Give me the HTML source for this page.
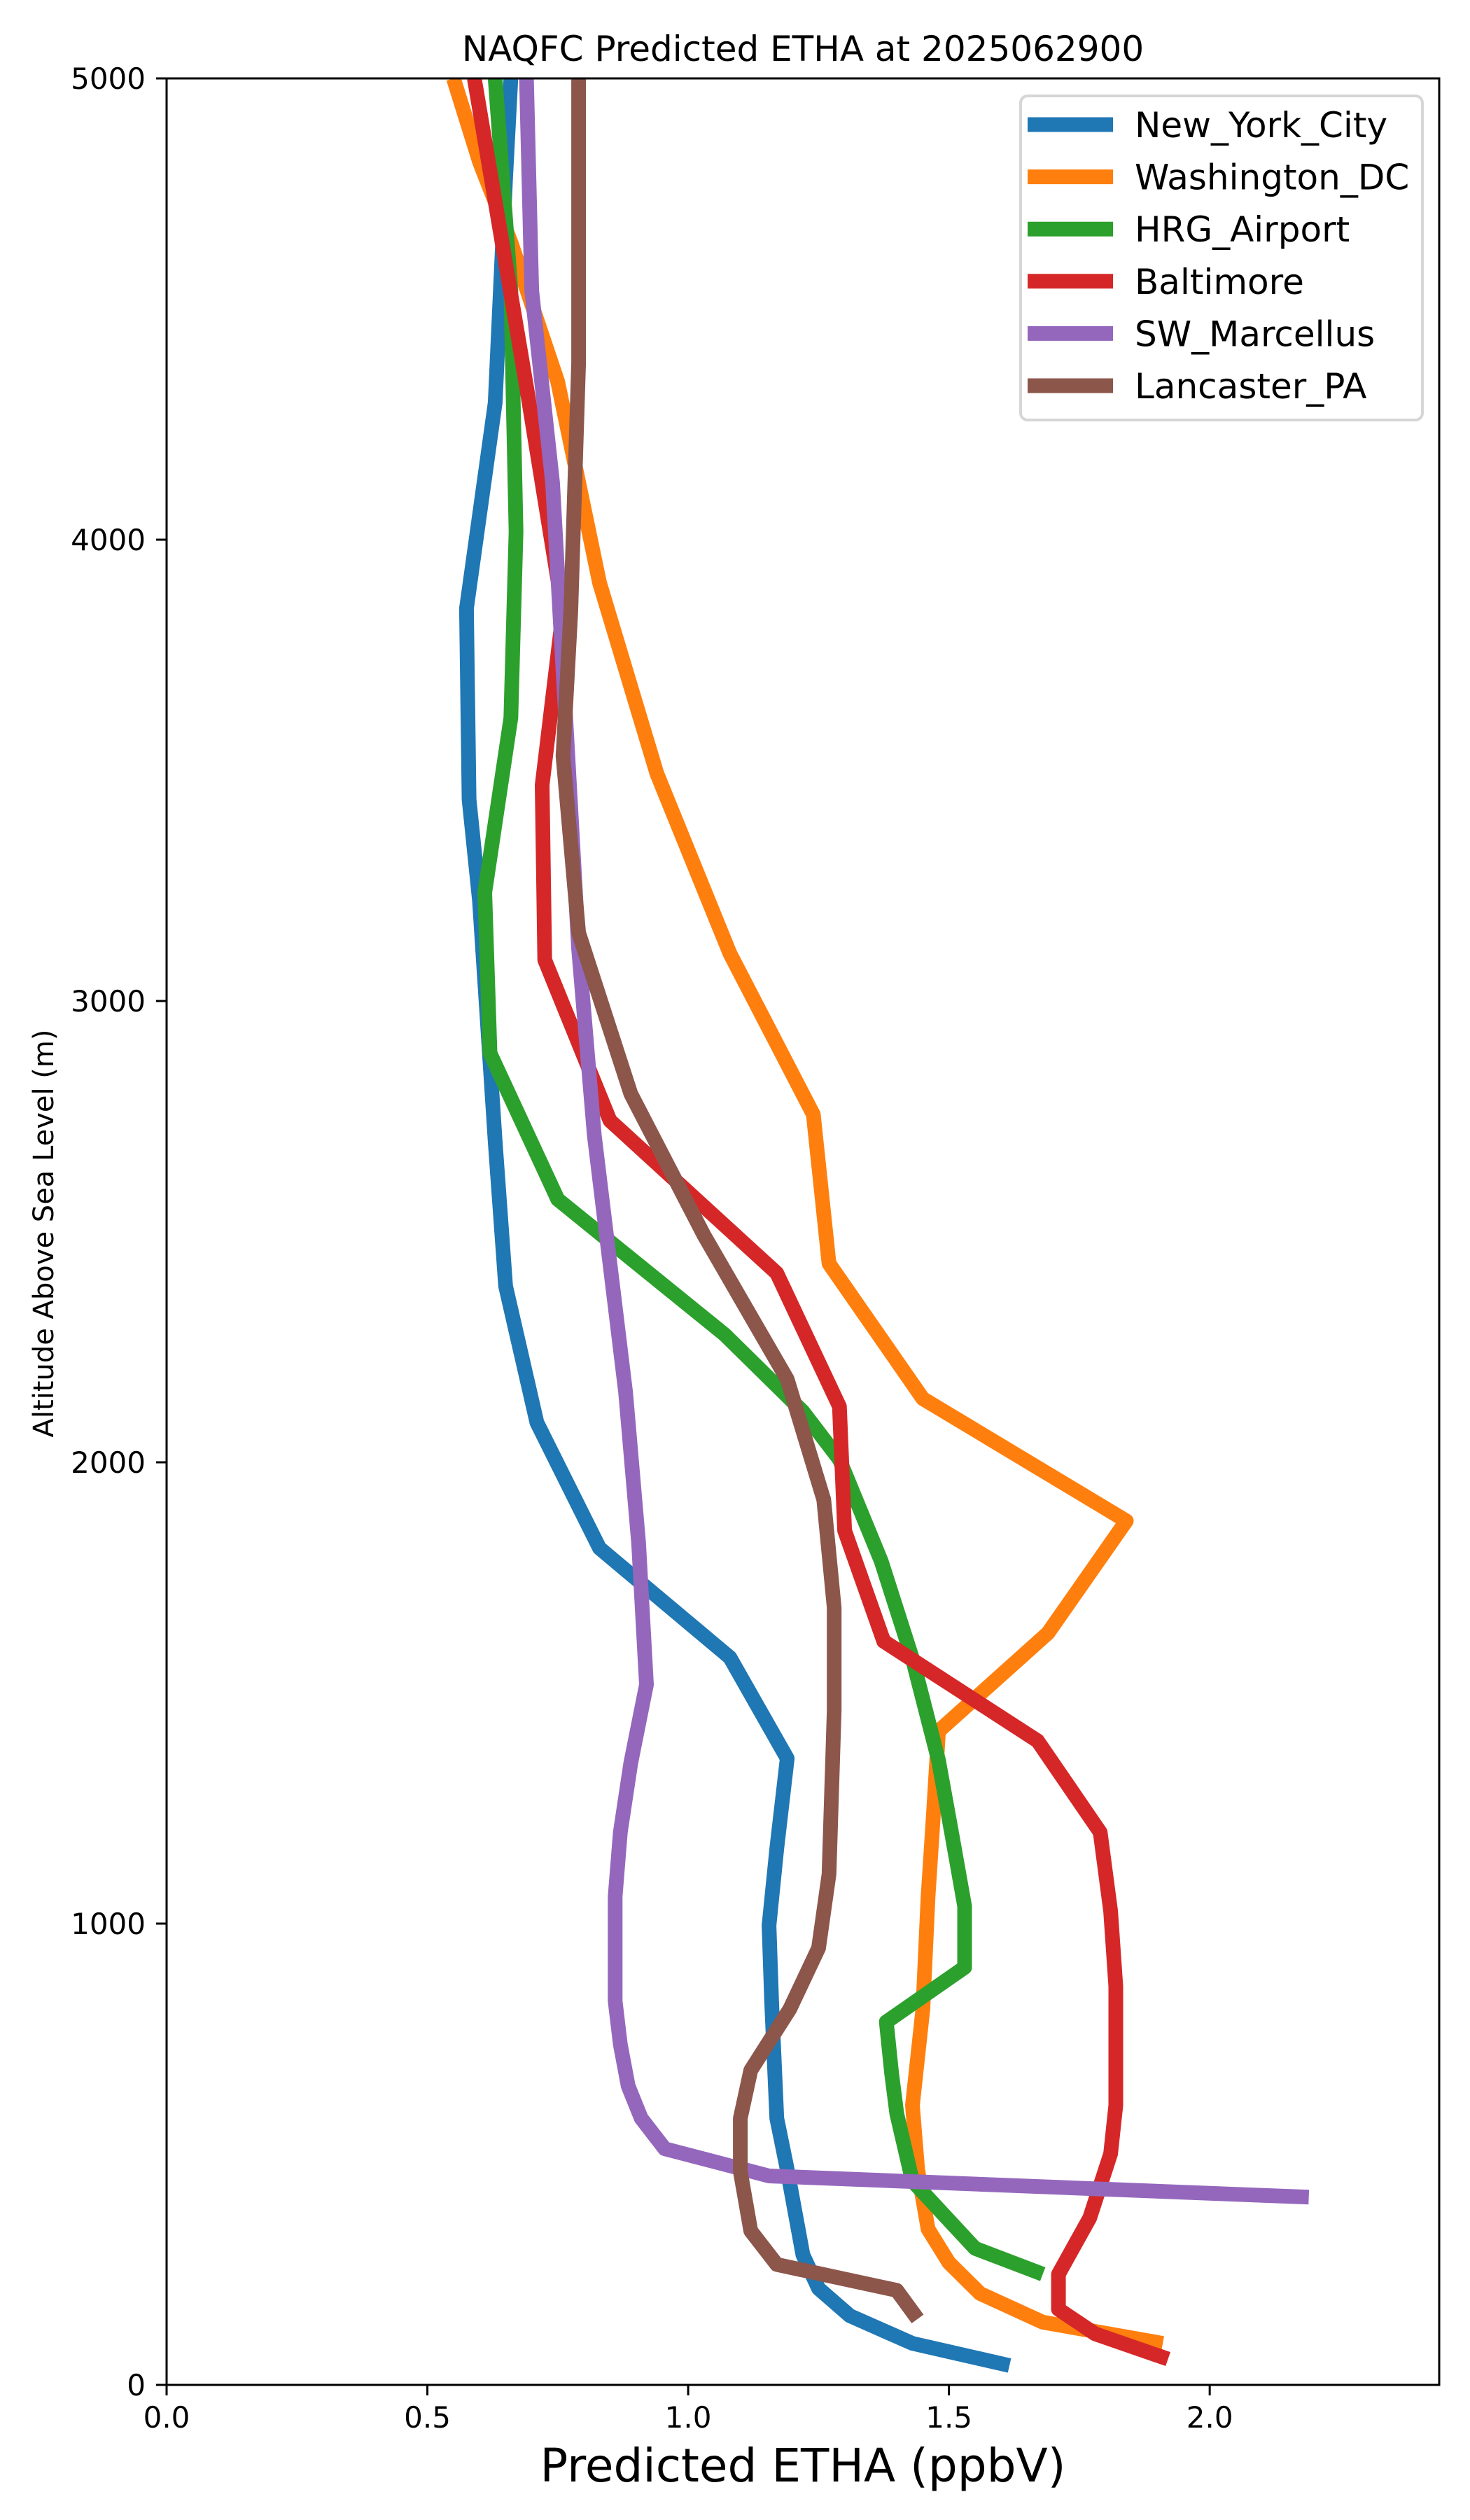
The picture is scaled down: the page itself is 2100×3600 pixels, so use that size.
<!DOCTYPE html>
<html><head><meta charset="utf-8"><style>
html,body{margin:0;padding:0;background:#fff;}
svg{display:block;font-family:"DejaVu Sans","Liberation Sans",sans-serif;}
</style></head><body>
<svg id="chart" width="2100" height="3600" viewBox="0 0 2100 3600" xmlns="http://www.w3.org/2000/svg">
<rect width="2100" height="3600" fill="#fff"/>
<text x="1147" y="87" font-size="50" text-anchor="middle">NAQFC Predicted ETHA at 2025062900</text>
<g id="plot"></g>
<g id="axes"></g>
<g id="legend"></g>
<text x="1147" y="3545" font-size="66" text-anchor="middle">Predicted ETHA (ppbV)</text>
<text x="0" y="0" font-size="40" text-anchor="middle" transform="translate(76,1762) rotate(-90)">Altitude Above Sea Level (m)</text>
</svg>
<script>
const seriesNames = ["New_York_City","Washington_DC","HRG_Airport","Baltimore","SW_Marcellus","Lancaster_PA"];
const seriesColors = ["#1f77b4","#ff7f0e","#2ca02c","#d62728","#9467bd","#8c564b"];
const xTicks = [0.0,0.5,1.0,1.5,2.0];
const xTickLabels = ["0.0","0.5","1.0","1.5","2.0"];
const yTicks = [0,1000,2000,3000,4000,5000];
const yTickLabels = ["0","1000","2000","3000","4000","5000"];
const xMin = 0, xMax = 2.44, yMin = 0, yMax = 5000;

const nycEtha = [1.616,1.43,1.31,1.25,1.22,1.19,1.17,1.16,1.155,1.17,1.19,1.08,0.83,0.71,0.65,0.63,0.60,0.58,0.575,0.63,0.65,0.66];
const nycAlt  = [42,90,150,209,282,467,578,832,996,1163,1358,1577,1814,2086,2382,2695,3217,3437,3851,4297,4784,5000];
const dcEtha = [1.91,1.68,1.56,1.50,1.46,1.44,1.43,1.45,1.46,1.47,1.48,1.69,1.84,1.45,1.27,1.24,1.08,0.94,0.83,0.75,0.66,0.60,0.55];
const dcAlt  = [90,136,198,265,338,467,606,815,1059,1233,1417,1630,1873,2138,2431,2754,3103,3493,3907,4342,4645,4819,5000];
const hrgEtha = [1.68,1.55,1.43,1.40,1.39,1.38,1.53,1.53,1.505,1.48,1.43,1.37,1.29,1.22,1.07,0.75,0.62,0.61,0.66,0.67,0.66,0.63];
const hrgAlt  = [240,296,442,588,676,787,905,1038,1198,1354,1574,1786,2006,2110,2277,2570,2887,3235,3614,4018,4540,5000];
const balEtha = [1.92,1.78,1.71,1.71,1.77,1.81,1.82,1.82,1.81,1.79,1.67,1.375,1.30,1.29,1.17,0.85,0.725,0.72,0.76,0.69,0.59];
const balAlt  = [56,111,164,240,362,501,606,864,1027,1198,1396,1612,1852,2121,2410,2741,3089,3468,3844,4332,5000];
const swmEtha = [2.19,1.155,0.955,0.91,0.885,0.87,0.86,0.86,0.87,0.89,0.92,0.905,0.88,0.82,0.79,0.74,0.70,0.69];
const swmAlt  = [407,453,512,578,648,738,832,1059,1198,1348,1518,1825,2152,2709,3113,4123,4540,5000];
const lanEtha = [1.44,1.40,1.17,1.12,1.10,1.10,1.12,1.195,1.25,1.27,1.28,1.28,1.26,1.19,1.03,0.89,0.79,0.76,0.775,0.79,0.79];
const lanAlt  = [143,205,261,334,463,578,682,815,947,1107,1462,1685,1919,2180,2493,2799,3148,3531,3844,4384,5000];

const seriesX = [nycEtha,dcEtha,hrgEtha,balEtha,swmEtha,lanEtha];
const seriesY = [nycAlt,dcAlt,hrgAlt,balAlt,swmAlt,lanAlt];
const slugs = ["new-york-city","washington-dc","hrg-airport","baltimore","sw-marcellus","lancaster-pa"];

const L=238,R=2056,T=112,B=3407;
function X(v){return L+(v-xMin)/(xMax-xMin)*(R-L);}
function Y(v){return B-(v-yMin)/(yMax-yMin)*(B-T);}
const NS="http://www.w3.org/2000/svg";
function mk(tag,attrs,parent){const e=document.createElementNS(NS,tag);for(const k in attrs)e.setAttribute(k,attrs[k]);parent.appendChild(e);return e;}

const plot=document.getElementById('plot');
const clip=mk('clipPath',{id:'clipP'},plot);
mk('rect',{x:L,y:T,width:R-L,height:B-T},clip);
const lines=mk('g',{'clip-path':'url(#clipP)'},plot);
for(let s=0;s<seriesNames.length;s++){
  const pts=seriesX[s].map((v,i)=>X(v).toFixed(1)+","+Y(seriesY[s][i]).toFixed(1)).join(" ");
  const pl=mk('polyline',{points:pts,fill:'none',stroke:seriesColors[s],'stroke-width':21,'stroke-linejoin':'round','stroke-linecap':'butt'},lines);
  
  
}

const axes=document.getElementById('axes');
const frame=mk('rect',{x:L,y:T,width:R-L,height:B-T,fill:'none',stroke:'#000','stroke-width':3},axes);


xTicks.forEach((t,i)=>{
  const tk=mk('line',{x1:X(t),x2:X(t),y1:B,y2:B+15,stroke:'#000','stroke-width':3},axes);
  
  
  const tx=mk('text',{x:X(t),y:B+61,'font-size':42,'text-anchor':'middle'},axes);
  tx.textContent=xTickLabels[i];
  
  
});
yTicks.forEach((t,i)=>{
  const tk=mk('line',{x1:L-15,x2:L,y1:Y(t),y2:Y(t),stroke:'#000','stroke-width':3},axes);
  
  
  const tx=mk('text',{x:L-30,y:Y(t)+15,'font-size':42,'text-anchor':'end'},axes);
  tx.textContent=yTickLabels[i];
  
  
});

const leg=document.getElementById('legend');
const box=mk('rect',{x:1458,y:137,width:574,height:463,rx:10,fill:'#fff','fill-opacity':0.8,stroke:'#d6d6d6','stroke-width':4},leg);


seriesNames.forEach((n,i)=>{
  const cy=178+i*74.6;
  const g=mk('g',{},leg);
  
  
  mk('line',{x1:1468,x2:1590,y1:cy,y2:cy,stroke:seriesColors[i],'stroke-width':21},g);
  const tx=mk('text',{x:1621,y:cy+18,'font-size':50},g);
  tx.textContent=n;
});
</script>
</body></html>
